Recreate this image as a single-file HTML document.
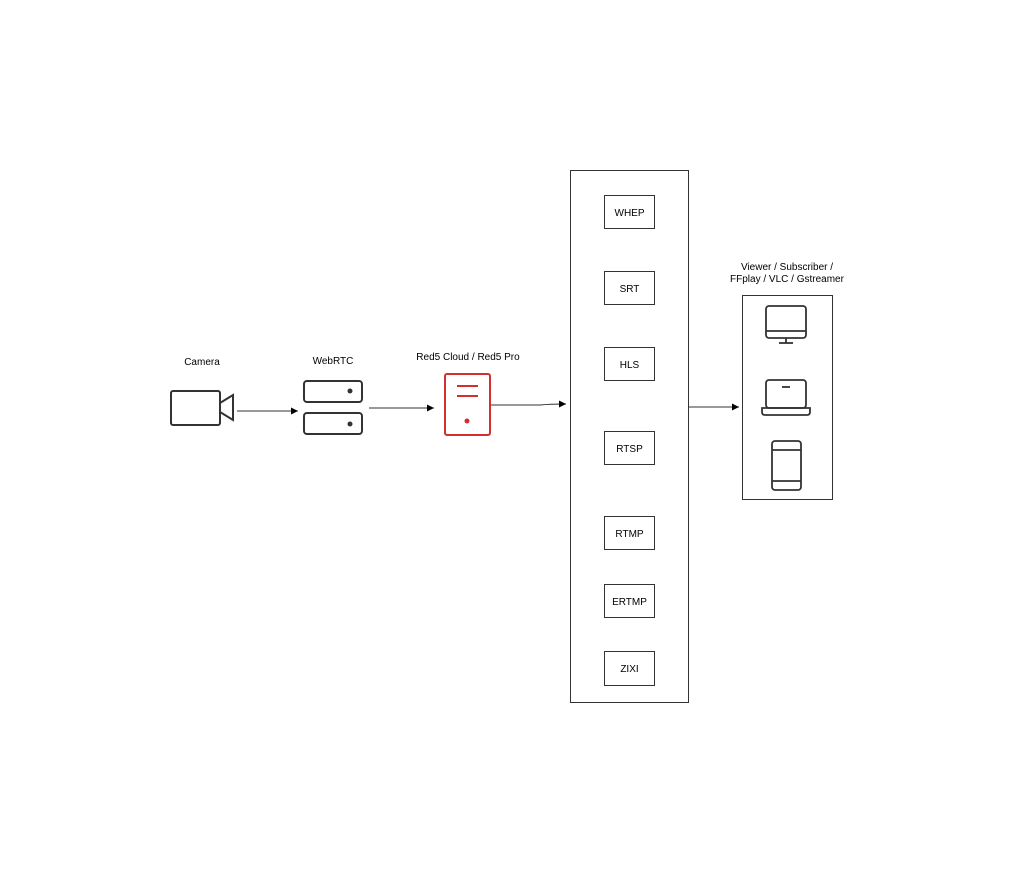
<!DOCTYPE html>
<html><head><style>html,body{margin:0;padding:0;background:#fff}</style></head><body>
<svg width="1024" height="873" xmlns="http://www.w3.org/2000/svg" font-family="Liberation Sans, sans-serif" font-size="10">
<defs><marker id="a" markerWidth="8" markerHeight="8" refX="7" refY="4" orient="auto" markerUnits="userSpaceOnUse"><path d="M0,0.5 L7,4 L0,7.5 Z" fill="#000"/></marker></defs>
<rect width="1024" height="873" fill="#fff"/>
<text x="202" y="365" text-anchor="middle">Camera</text>
<text x="333" y="364" text-anchor="middle">WebRTC</text>
<text x="468" y="360" text-anchor="middle">Red5 Cloud / Red5 Pro</text>
<rect x="171" y="391" width="49" height="34" rx="2" fill="none" stroke="#333" stroke-width="2"/>
<path d="M220,403 L233,395 L233,420 L220,412" fill="none" stroke="#333" stroke-width="2"/>
<line x1="237" y1="411" x2="298" y2="411" stroke="#333" marker-end="url(#a)"/>
<rect x="304" y="381" width="58" height="21" rx="3" fill="none" stroke="#333" stroke-width="2"/>
<rect x="304" y="413" width="58" height="21" rx="3" fill="none" stroke="#333" stroke-width="2"/>
<circle cx="350" cy="391" r="2.5" fill="#333"/><circle cx="350" cy="424" r="2.5" fill="#333"/>
<line x1="369" y1="408" x2="434" y2="408" stroke="#333" marker-end="url(#a)"/>
<rect x="445" y="374" width="45" height="61" rx="2" fill="none" stroke="#d32f2f" stroke-width="2"/>
<line x1="457" y1="386" x2="478" y2="386" stroke="#d32f2f" stroke-width="2"/>
<line x1="457" y1="396" x2="478" y2="396" stroke="#d32f2f" stroke-width="2"/>
<circle cx="467" cy="421" r="2.5" fill="#d32f2f"/>
<path d="M491,405 L540,405 Q550,404 566,404" fill="none" stroke="#333" marker-end="url(#a)"/>
<rect x="570.5" y="170.5" width="118" height="532" fill="none" stroke="#333"/>
<g fill="none" stroke="#333">
<rect x="604.5" y="195.5" width="50" height="33"/>
<rect x="604.5" y="271.5" width="50" height="33"/>
<rect x="604.5" y="347.5" width="50" height="33"/>
<rect x="604.5" y="431.5" width="50" height="33"/>
<rect x="604.5" y="516.5" width="50" height="33"/>
<rect x="604.5" y="584.5" width="50" height="33"/>
<rect x="604.5" y="651.5" width="50" height="34"/>
</g>
<g text-anchor="middle">
<text x="629.5" y="216">WHEP</text>
<text x="629.5" y="292">SRT</text>
<text x="629.5" y="368">HLS</text>
<text x="629.5" y="452">RTSP</text>
<text x="629.5" y="537">RTMP</text>
<text x="629.5" y="605">ERTMP</text>
<text x="629.5" y="672">ZIXI</text>
</g>
<line x1="689" y1="407" x2="739" y2="407" stroke="#333" marker-end="url(#a)"/>
<text x="787" y="270" text-anchor="middle">Viewer / Subscriber /</text>
<text x="787" y="282" text-anchor="middle">FFplay / VLC / Gstreamer</text>
<rect x="742.5" y="295.5" width="90" height="204" fill="none" stroke="#333"/>
<g fill="none" stroke="#333" stroke-width="1.8">
<rect x="766" y="306" width="40" height="32" rx="3"/>
<line x1="766" y1="331" x2="806" y2="331"/>
<line x1="786" y1="338" x2="786" y2="343"/><line x1="779" y1="343" x2="793" y2="343"/>
<rect x="766" y="380" width="40" height="28" rx="3"/>
<path d="M762,408 L810,408 L810,412 Q810,415 807,415 L765,415 Q762,415 762,412 Z"/>
<line x1="782" y1="387" x2="790" y2="387"/>
<rect x="772" y="441" width="29" height="49" rx="3"/>
<line x1="772" y1="450" x2="801" y2="450"/><line x1="772" y1="481" x2="801" y2="481"/>
</g>
</svg>
</body></html>
